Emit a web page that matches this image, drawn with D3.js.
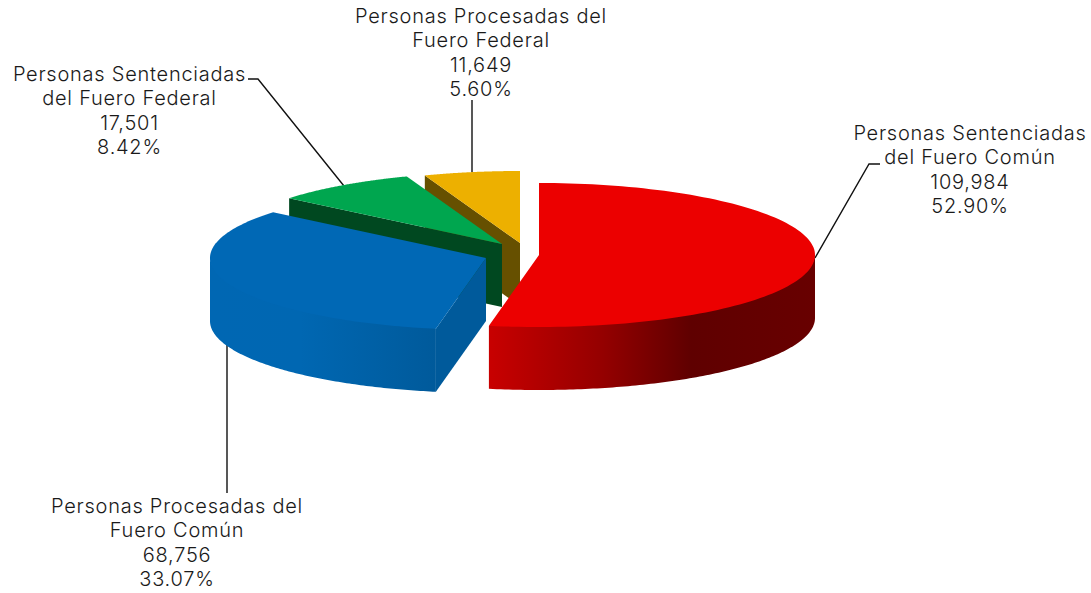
<!DOCTYPE html>
<html><head><meta charset="utf-8">
<style>html,body{margin:0;padding:0;background:#fff;overflow:hidden}svg{display:block}
text{font-family:Inter,"Open Sans",sans-serif;font-weight:300;font-size:20px;letter-spacing:.75px;fill:#1a1a1a;text-anchor:middle}</style>
<script src="https://cdnjs.cloudflare.com/ajax/libs/d3/7.8.5/d3.min.js"></script>
</head><body><script>
const categories=["Personas Sentenciadas del Fuero Común","Personas Procesadas del Fuero Común","Personas Sentenciadas del Fuero Federal","Personas Procesadas del Fuero Federal"];
const values=[109984,68756,17501,11649];
const labelLines=[["Personas Sentenciadas","del Fuero Común"],["Personas Procesadas del","Fuero Común"],["Personas Sentenciadas","del Fuero Federal"],["Personas Procesadas del","Fuero Federal"]];
const topColors=["#ec0000","#0068b5","#00a64f","#edb000"];
const wallColors=["#660000","#005a9b","#004820","#665000"];
const apexX=[539,486,502,520];
const apexY=[255,258,244,243];
const labelX=[970,177,129.5,481];
const labelY=[140,513,81,23];
const leaders=[[[815,258],[869,164],[880,164]],[[227,345],[227,493]],[[344,186],[258,79],[248,79]],[[472,172],[472,100]]];

const W=1091,H=593,RX=276,RY=72,DEPTH=63;
const svg=d3.select("body").append("svg").attr("width",W).attr("height",H);
const total=d3.sum(values);
const arcs=d3.pie().sort(null).startAngle(0).endAngle(2*Math.PI)(values);
const fmt=d3.format(",");const pct=d3.format(".2%");
const sx=d3.scaleLinear([-1,1],[-RX,RX]),sy=d3.scaleLinear([-1,1],[-RY,RY]);
const line=d3.line();
const pt=(i,a,dy=0)=>[apexX[i]+sx(Math.sin(a)),apexY[i]-sy(Math.cos(a))+dy];
const arcPts=(i,a0,a1,dy=0)=>d3.range(0,121).map(k=>pt(i,a0+(a1-a0)*k/120,dy));
const defs=svg.append("defs");
function grad(id,x1,x2,stops){const g=defs.append("linearGradient").attr("id",id).attr("gradientUnits","userSpaceOnUse").attr("x1",x1).attr("x2",x2).attr("y1",0).attr("y2",0);
 stops.forEach(s=>g.append("stop").attr("offset",s[0]).attr("stop-color",s[1]));}
grad("gRed",489,815,[[0,"#c80000"],[.35,"#940000"],[.62,"#5f0000"],[1,"#680000"]]);
grad("gBlue",210,436,[[0,"#0067b3"],[.4,"#0067b2"],[1,"#005a9b"]]);

svg.append("g").selectAll("path").data(leaders).join("path").attr("d",d=>line(d)).attr("fill","none").attr("stroke","#111").attr("stroke-width",1.4);

const order=[3,2,1,0];
const g=svg.append("g");
const SEAM=2; // walls tuck slightly under the top face so no light seam shows
order.forEach(i=>{
 const a=arcs[i];const A=[apexX[i],apexY[i]];
 const sl=g.append("g");
 if(i>=1){
  const p=pt(i,a.startAngle);
  sl.append("path").attr("d",line([A,p,[p[0],p[1]+DEPTH],[A[0],A[1]+DEPTH]])+"Z").attr("fill",wallColors[i]);
 }
 if(i===1){
  const a1=3*Math.PI/2;
  const up=arcPts(i,a.startAngle,a1,-SEAM),low=arcPts(i,a1,a.startAngle,DEPTH);
  up[0]=pt(i,a.startAngle);
  sl.append("path").attr("d",line(up.concat(low))+"Z").attr("fill","url(#gBlue)");
 }
 if(i===0){
  const a0=Math.PI/2;
  const up=arcPts(i,a0,a.endAngle,-SEAM),low=arcPts(i,a.endAngle,a0,DEPTH);
  up[up.length-1]=pt(i,a.endAngle);
  sl.append("path").attr("d",line(up.concat(low))+"Z").attr("fill","url(#gRed)");
 }
 sl.append("path").attr("d",line([A].concat(arcPts(i,a.startAngle,a.endAngle)))+"Z").attr("fill",topColors[i]);
});

categories.forEach((c,i)=>{
 const rows=labelLines[i].concat([fmt(values[i]),pct(values[i]/total)]);
 const t=svg.append("text").attr("aria-label",c);
 rows.forEach((r,k)=>t.append("tspan").attr("x",labelX[i]).attr("y",labelY[i]+k*24.4).text(r));
});
</script></body></html>
